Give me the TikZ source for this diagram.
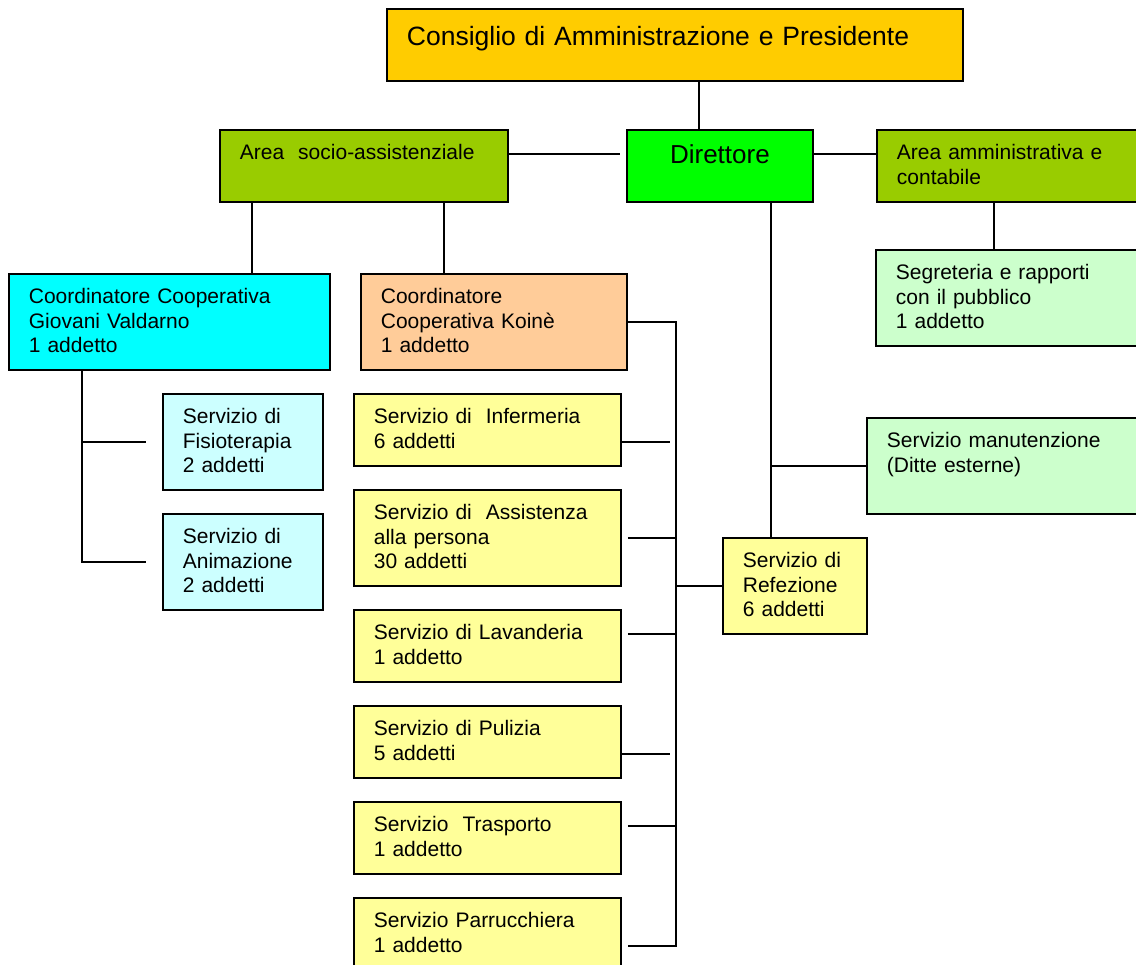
\documentclass[tikz,border=0pt]{standalone}
\usepackage{fontspec}
\setmainfont{Liberation Sans}
\usetikzlibrary{positioning}

\definecolor{cdagold}{HTML}{FFCC00}
\definecolor{dirgreen}{HTML}{00FF00}
\definecolor{areagreen}{HTML}{99CC00}
\definecolor{coopcyan}{HTML}{00FFFF}
\definecolor{coopapricot}{HTML}{FFCC99}
\definecolor{servyellow}{HTML}{FFFF99}
\definecolor{servcyan}{HTML}{CCFFFF}
\definecolor{servmint}{HTML}{CCFFCC}

\begin{document}
\begin{tikzpicture}[x=1pt,y=-1pt,line width=1.8pt]
	\tikzstyle{every node}=[font=\fontsize{21}{24.4}\selectfont]
	\tikzstyle{org}=[draw,line width=1.8pt,anchor=north west,inner xsep=20pt,inner ysep=0pt,align=left,text height=30pt,text depth=42pt]
	\tikzstyle{orgtall}=[org,text depth=66pt]
	\tikzstyle{yellowbox}=[org,fill=servyellow,text width=227pt]

	\useasboundingbox (0,0) rectangle (1136,965);
	\clip (0,0) rectangle (1136,965);

	% top levels
	\node[org,fill=cdagold,text width=536pt,text height=37pt,text depth=35pt,font=\fontsize{26.5}{30}\selectfont] (cda) at (386,8) {Consiglio di Amministrazione e Presidente};
	\node[org,fill=dirgreen,text width=146pt,align=center,text height=34pt,text depth=38pt,font=\fontsize{26}{30}\selectfont] (dir) at (626,129) {Direttore};
	\node[org,fill=areagreen,text width=248pt] (areasoc) at (219,129) {Area\ \ socio-assistenziale};
	\node[org,fill=areagreen,text width=250pt] (areaamm) at (876,129) {Area amministrativa e\\contabile};

	% cooperative
	\node[orgtall,fill=coopcyan,text width=281pt] (giov) at (8,273) {Coordinatore Cooperativa\\Giovani Valdarno\\1 addetto};
	\node[orgtall,fill=coopapricot,text width=226pt] (koine) at (360,273) {Coordinatore\\Cooperativa Koinè\\1 addetto};
	\node[orgtall,fill=servcyan,text width=120pt] (fisio) at (162,393) {Servizio di\\Fisioterapia\\2 addetti};
	\node[orgtall,fill=servcyan,text width=120pt] (anim) at (162,513) {Servizio di\\Animazione\\2 addetti};

	% servizi
	\node[yellowbox] (inferm) at (353,393) {Servizio di\ \ Infermeria\\6 addetti};
	\node[yellowbox,text depth=66pt] (assist) at (353,489) {Servizio di\ \ Assistenza\\alla persona\\30 addetti};
	\node[yellowbox] (lavand) at (353,609) {Servizio di Lavanderia\\1 addetto};
	\node[yellowbox] (pulizia) at (353,705) {Servizio di Pulizia\\5 addetti};
	\node[yellowbox] (trasp) at (353,801) {Servizio\ \ Trasporto\\1 addetto};
	\node[yellowbox,text depth=66pt] (parr) at (353,897) {Servizio Parrucchiera\\1 addetto};
	\node[orgtall,fill=servyellow,text width=104pt] (refez) at (722,537) {Servizio di\\Refezione\\6 addetti};

	% area amministrativa
	\node[orgtall,fill=servmint,text width=260pt] (segr) at (875,249) {Segreteria e rapporti\\con il pubblico\\1 addetto};
	\node[orgtall,fill=servmint,text width=260pt] (manut) at (866,417) {Servizio manutenzione\\(Ditte esterne)};

	% connectors
	\coordinate (ctop) at ([xshift=-21pt]dir.north);
	\draw (ctop) -- (ctop |- cda.south);
	\draw ([yshift=12pt]areasoc.east) -- ([xshift=-6pt,yshift=12pt]dir.west);
	\draw ([yshift=12pt]dir.east) -- ([yshift=12pt]areaamm.west);

	\coordinate (s1) at ([xshift=33pt]areasoc.south west);
	\coordinate (s2) at ([xshift=225pt]areasoc.south west);
	\coordinate (s3) at ([xshift=118pt]areaamm.south west);
	\draw (s1) -- (s1 |- giov.north);
	\draw (s2) -- (s2 |- koine.north);
	\draw (s3) -- (s3 |- segr.north);

	\coordinate (gbus) at ([xshift=74pt]giov.south west);
	\draw (gbus) -- (gbus |- anim.west) -- ([xshift=-16pt]anim.west);
	\draw (gbus |- fisio.west) -- ([xshift=-16pt]fisio.west);

	\coordinate (kbus) at ([xshift=48pt]koine.east);
	\draw (koine.east) -- (kbus) -- (kbus |- parr.east) -- ([xshift=6pt]parr.east);
	\draw ([yshift=-12pt]inferm.east) -- ++(48pt,0);
	\draw ([xshift=6pt]assist.east) -- (assist.east -| kbus);
	\draw ([xshift=6pt,yshift=12pt]lavand.east) -- ++(48pt,0);
	\draw ([yshift=-12pt]pulizia.east) -- ++(48pt,0);
	\draw ([xshift=6pt,yshift=12pt]trasp.east) -- ++(48pt,0);
	\draw (kbus |- refez.west) -- (refez.west);

	\coordinate (dbus) at ([xshift=-24pt]refez.north);
	\draw (dbus |- dir.south) -- (dbus);
	\draw (dbus |- manut.west) -- (manut.west);
\end{tikzpicture}
\end{document}
